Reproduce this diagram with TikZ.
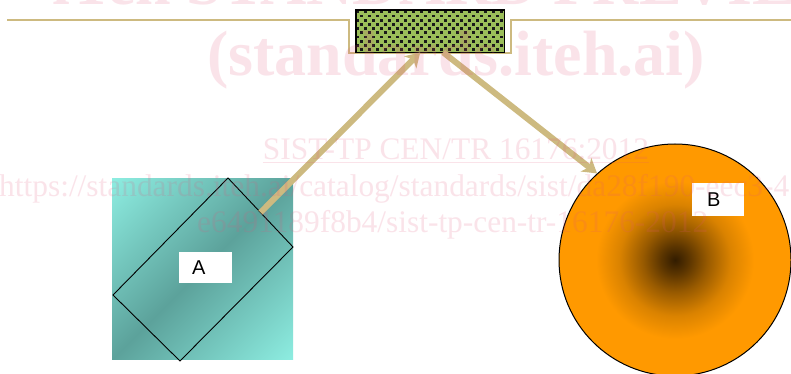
\documentclass[tikz,border=0pt]{standalone}
\usepackage{fontspec}
\setmainfont{Liberation Serif}
\newfontfamily\lsans{Liberation Sans}
\usetikzlibrary{arrows.meta,calc}
\definecolor{tanline}{RGB}{205,186,128}
\definecolor{tealL}{RGB}{142,238,226}
\definecolor{tealD}{RGB}{92,162,155}
\definecolor{mossg}{RGB}{155,190,90}
\definecolor{orng}{RGB}{255,153,0}
\definecolor{brwn}{RGB}{50,28,0}
\definecolor{wmpink}{RGB}{227,83,123}
\colorlet{ballA}{brwn!80!orng}
\colorlet{ballB}{brwn!50!orng}
\colorlet{ballC}{brwn!18!orng}
\pgfdeclarehorizontalshading{tealrefl}{100bp}{color(0bp)=(tealL); color(14bp)=(tealL); color(50bp)=(tealD); color(86bp)=(tealL); color(100bp)=(tealL)}
\pgfdeclareradialshading{ballsh}{\pgfpoint{0bp}{0bp}}{color(0bp)=(brwn); color(3bp)=(ballA); color(7bp)=(ballB); color(12bp)=(ballC); color(17bp)=(orng); color(50bp)=(orng)}
\tikzset{
  tanrule/.style={draw=tanline, line width=2pt},
  tanarrow/.style={draw=tanline, line width=6pt, -{Stealth[length=14pt,width=17pt,inset=4pt]}},
  lblbox/.style={fill=white, font=\lsans\fontsize{20}{20}\selectfont, align=left, inner ysep=0pt},
  wmbig/.style={text=wmpink, opacity=0.16, font=\fontsize{64}{64}\selectfont\bfseries, inner sep=0pt, anchor=base},
  wmsmall/.style={text=wmpink, opacity=0.16, font=\fontsize{31.4}{31.4}\selectfont, inner sep=0pt},
}
\begin{document}
\begin{tikzpicture}[x=1pt,y=-1pt]
\useasboundingbox (0,0) rectangle (791,374);
\clip (0,0) rectangle (791,374);
\fill[white] (0,0) rectangle (791,374);

% top rule with notch
\draw[tanrule] (7,20) -- (349,20) -- (349,53) -- (511,53) -- (511,20) -- (795,20);

% green patterned box
\node[fill=mossg, minimum width=148pt, minimum height=42pt, inner sep=0pt, anchor=north west] (G) at (356,10) {};
\begin{scope}
  \clip (G.south west) rectangle (G.north east);
  \foreach \r in {0,...,10} {
    \foreach \c in {0,...,19} {
      \fill[black!90] ({356+8*\c+4*mod(\r,2)}, {10.5+4.2*\r}) rectangle ++(3.2,2.8);
    }
  }
\end{scope}
\draw[line width=1.6pt] (G.south west) rectangle (G.north east);

% square A
\node[shade, shading=tealrefl, shading angle=-45, minimum width=181pt, minimum height=181pt, inner sep=0pt, anchor=north west] (Sq) at (112,178) {};
\coordinate (T) at (228,178);
\coordinate (R) at (293,247);
\coordinate (Bt) at (180,361);
\coordinate (L) at (113,295);
\draw[line width=0.9pt] (T) -- (R) -- (Bt) -- (L) -- cycle;
\coordinate (a1) at ($(T)!0.5!(R)$);
\node[lblbox, inner xsep=13pt, text width=27pt, minimum height=31pt] (la) at (205.5,267.5) {A};

% circle B
\node[circle, draw, line width=1pt, shade, shading=ballsh, minimum size=232pt, inner sep=0pt] (B) at (675,260) {};
\node[lblbox, inner xsep=15pt, text width=22pt, minimum height=33pt] (lb) at (718,199.5) {B};

% arrows
\draw[tanarrow] (a1) -- ([xshift=-10pt]G.south);
\draw[tanarrow] ([xshift=13pt]G.south) -- (B.132);

% watermark
\node[wmbig] (w1) at (456,5) {iTeh STANDARD PREVIEW};
\node[wmbig] (w2) at (456,76) {(standards.iteh.ai)};
\node[wmsmall, anchor=base] (w3) at (456,160) {\underline{SIST-TP CEN/TR 16176:2012}};
\node[wmsmall, anchor=base west] (w4) at (-1,196) {https://standards.iteh.ai/catalog/standards/sist/da28f190-eec3-4};
\node[wmsmall, anchor=base west] (w5) at (197,232) {e6491189f8b4/sist-tp-cen-tr-16176-2012};
\end{tikzpicture}
\end{document}
